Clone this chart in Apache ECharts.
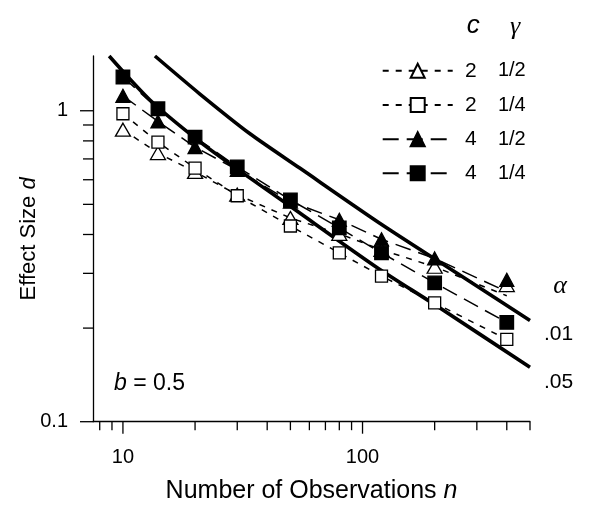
<!DOCTYPE html>
<html><head><meta charset="utf-8">
<script src="https://cdn.jsdelivr.net/npm/echarts@6/dist/echarts.min.js"></script>
<style>html,body{margin:0;padding:0;background:#fff}#c{width:597px;height:513px}</style>
</head><body><div id="c"></div>
<script>
// ---------- data ----------
const nObs = [10, 14, 20, 30, 50, 80, 120, 200, 400];
// simulated effect sizes (markers)
const c2g12 = [0.869, 0.731, 0.636, 0.537, 0.452, 0.402, 0.357, 0.315, 0.275];
const c2g14 = [0.978, 0.793, 0.654, 0.533, 0.426, 0.349, 0.294, 0.241, 0.184];
const c4g12 = [1.117, 0.924, 0.764, 0.646, 0.510, 0.446, 0.386, 0.335, 0.286];
const c4g14 = [1.284, 1.015, 0.823, 0.660, 0.517, 0.420, 0.349, 0.2795, 0.2086];
// dashed curves
const c2g12Line = [0.869, 0.731, 0.636, 0.537, 0.452, 0.402, 0.357, 0.315, 0.254];
const c2g14Line = [0.978, 0.793, 0.654, 0.533, 0.426, 0.349, 0.294, 0.241, 0.184];
const c4g12Line = [1.117, 0.924, 0.764, 0.646, 0.510, 0.446, 0.386, 0.335, 0.262];
const c4g14Line = [1.284, 1.015, 0.823, 0.660, 0.517, 0.420, 0.349, 0.2795, 0.2086];
// critical effect size curves
const alpha01N = [13.6, 20.9, 33.8, 54.7, 118, 250, 500];
const alpha01D = [1.5, 1.134, 0.845, 0.654, 0.435, 0.299, 0.2115];
const alpha05N = [8.76, 12.93, 20.9, 31.7, 48.1, 114.4, 200, 500];
const alpha05D = [1.5, 1.085, 0.796, 0.630, 0.503, 0.314, 0.238, 0.1497];
// legend labels
const legendC = ['2', '2', '4', '4'];
const legendG = ['1/2', '1/4', '1/2', '1/4'];
const alphaLabels = ['.01', '.05'];
// axes
const xMin = 7.5, xMax = 500, yMin = 0.1, yMax = 1.5;
const xTicks = [8, 9, 10, 20, 30, 40, 50, 60, 70, 80, 90, 100, 200, 300, 400, 500];
const xMajor = [10, 100];
const yTicks = [0.1, 0.2, 0.3, 0.4, 0.5, 0.6, 0.7, 0.8, 0.9, 1];
const yMajor = [0.1, 1];
const xLabels = [10, 100];
const yLabels = [0.1, 1];

// ---------- chart ----------
const chart = echarts.init(document.getElementById('c'), null, {renderer: 'canvas'});
const FONT = '"Liberation Sans", Arial, Helvetica, sans-serif';
const SERIF = '"Liberation Serif", "Times New Roman", serif';
const near = (v, arr) => arr.some(a => Math.abs(Math.log10(v) - Math.log10(a)) < 1e-6);
const pairs = (xs, ys) => xs.map((x, i) => [x, ys[i]]);

const groups = [
  {name: 'g0', marks: c2g12, line: c2g12Line, symbol: 'triangle', size: [15, 13], fill: '#fff', dash: [6, 7]},
  {name: 'g1', marks: c2g14, line: c2g14Line, symbol: 'rect', size: [12, 12], fill: '#fff', dash: [6, 7]},
  {name: 'g2', marks: c4g12, line: c4g12Line, symbol: 'triangle', size: [14, 13], fill: '#000', dash: [16, 8]},
  {name: 'g3', marks: c4g14, line: c4g14Line, symbol: 'rect', size: [13.5, 13.5], fill: '#000', dash: [16, 8]}
];

const series = [];
series.push({type: 'line', data: pairs(alpha01N, alpha01D), symbol: 'none', smooth: 0.25,
  lineStyle: {color: '#000', width: 3.6}, z: 2, silent: true});
series.push({type: 'line', data: pairs(alpha05N, alpha05D), symbol: 'none', smooth: 0.25,
  lineStyle: {color: '#000', width: 3.6}, z: 2, silent: true});
groups.forEach(g => {
  series.push({type: 'line', name: g.name, data: pairs(nObs, g.line), symbol: g.symbol, showSymbol: false,
    symbolSize: g.size, lineStyle: {color: '#000', width: 1.5, type: g.dash},
    itemStyle: {color: g.fill, borderColor: '#000', borderWidth: 1.3}, z: 3, silent: true});
});
groups.forEach(g => {
  series.push({type: 'scatter', name: g.name + 'm', data: pairs(nObs, g.marks), symbol: g.symbol,
    symbolSize: g.size, itemStyle: {color: g.fill, borderColor: '#000', borderWidth: 1.3, opacity: 1},
    z: 4, silent: true});
});
// tick marks via the axes' scales
series.push({type: 'custom', clip: false, silent: true, z: 5,
  data: xTicks.map(v => [v, yMin]),
  renderItem: (params, api) => {
    const v = api.value(0);
    const p = api.coord([v, yMin]);
    const len = near(v, xMajor) ? 12 : 8.5;
    return {type: 'line', shape: {x1: p[0], y1: p[1], x2: p[0], y2: p[1] + len},
      style: {stroke: '#000', lineWidth: 1.3}};
  }});
series.push({type: 'custom', clip: false, silent: true, z: 5,
  data: yTicks.map(v => [xMin, v]),
  renderItem: (params, api) => {
    const v = api.value(1);
    const p = api.coord([xMin, v]);
    const len = near(v, yMajor) ? 13 : 10;
    return {type: 'line', shape: {x1: p[0] - len, y1: p[1], x2: p[0], y2: p[1]},
      style: {stroke: '#000', lineWidth: 1.3}};
  }});

const legendTops = [69, 103.3, 137.5, 171.5];
const legends = groups.map((g, i) => ({
  data: [g.name], left: 381.7, top: legendTops[i] - 8.75, orient: 'vertical', padding: 0,
  itemWidth: 70, itemHeight: 17.5, selectedMode: false,
  formatter: () => '{n|' + legendC[i] + '}{g|' + legendG[i] + '}',
  textStyle: {color: '#000', fontFamily: FONT, fontSize: 21,
    rich: {n: {width: 19, align: 'right', fontSize: 21, fontFamily: FONT, color: '#000'},
           g: {width: 49, align: 'right', fontSize: 20, fontFamily: FONT, color: '#000'}}}
}));

const option = {
  animation: false,
  backgroundColor: '#fff',
  grid: {left: 93, right: 67, top: 56, bottom: 91.3, containLabel: false},
  xAxis: {type: 'log', logBase: 10, min: xMin, max: xMax,
    name: 'Number of Observations {i|n}', nameLocation: 'middle', nameGap: 57, nameMoveOverlap: false,
    nameTextStyle: {color: '#000', fontFamily: FONT, fontSize: 25,
      rich: {i: {fontStyle: 'italic', fontFamily: FONT, fontSize: 25, color: '#000'}}},
    axisLine: {show: true, onZero: false, lineStyle: {color: '#000', width: 1.3}},
    axisTick: {show: false}, splitLine: {show: false}, minorTick: {show: false},
    axisLabel: {show: true, margin: 26, color: '#000', fontFamily: FONT, fontSize: 20,
      showMinLabel: true, showMaxLabel: true,
      formatter: v => near(v, xLabels) ? String(Math.round(v)) : ''}},
  yAxis: {type: 'log', logBase: 10, min: yMin, max: yMax,
    name: 'Effect Size {i|d}', nameLocation: 'middle', nameGap: 53, nameRotate: 90, nameMoveOverlap: false,
    nameTextStyle: {color: '#000', fontFamily: FONT, fontSize: 22,
      rich: {i: {fontStyle: 'italic', fontFamily: FONT, fontSize: 22, color: '#000'}}},
    axisLine: {show: true, onZero: false, lineStyle: {color: '#000', width: 1.3}},
    axisTick: {show: false}, splitLine: {show: false}, minorTick: {show: false},
    axisLabel: {show: true, margin: 25, color: '#000', fontFamily: FONT, fontSize: 20,
      formatter: v => { const l = yLabels.find(a => near(v, [a])); return l === undefined ? '' : String(l); }}},
  legend: legends,
  series: series,
  graphic: [
    {type: 'text', x: 473.3, y: 25.5, style: {text: 'c', font: 'italic 26px ' + FONT, fill: '#000', align: 'center', verticalAlign: 'middle'}},
    {type: 'text', x: 515, y: 27, style: {text: 'γ', font: 'italic 26px ' + SERIF, fill: '#000', align: 'center', verticalAlign: 'middle'}},
    {type: 'text', x: 560, y: 286, style: {text: 'α', font: 'italic 26px ' + SERIF, fill: '#000', align: 'center', verticalAlign: 'middle'}},
    {type: 'text', x: 544, y: 334, style: {text: alphaLabels[0], font: '21px ' + FONT, fill: '#000', align: 'left', verticalAlign: 'middle'}},
    {type: 'text', x: 544, y: 382, style: {text: alphaLabels[1], font: '21px ' + FONT, fill: '#000', align: 'left', verticalAlign: 'middle'}},
    {type: 'text', x: 114, y: 384, style: {text: '{i|b} = 0.5', font: '23px ' + FONT, fill: '#000', align: 'left', verticalAlign: 'middle',
      rich: {i: {fontStyle: 'italic', fontFamily: FONT, fontSize: 23, fill: '#000'}}}}
  ]
};
chart.setOption(option);
</script></body></html>
